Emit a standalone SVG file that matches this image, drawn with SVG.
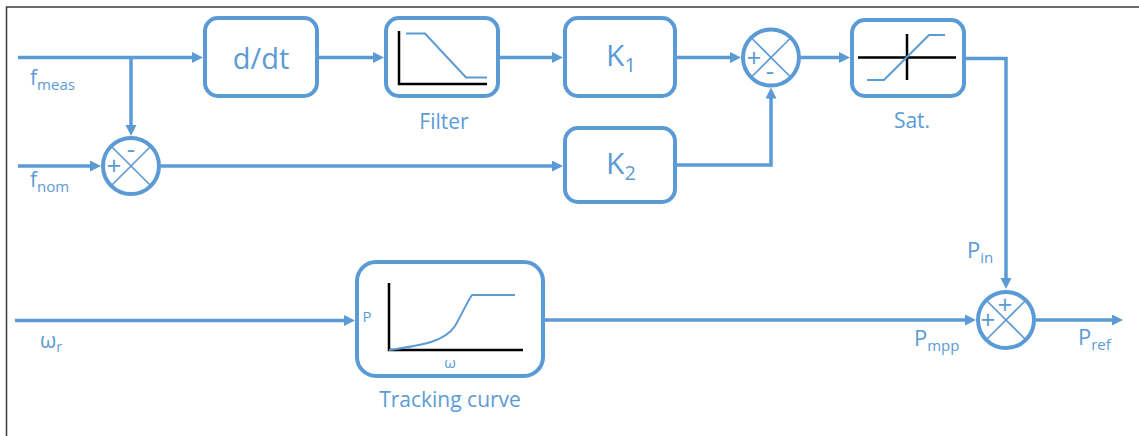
<svg xmlns="http://www.w3.org/2000/svg" width="1139" height="436" viewBox="0 0 1139 436">
<style>
  .box { fill: #ffffff; stroke: #5B9BD5; stroke-width: 4; }
  .sum { fill: #ffffff; stroke: #5B9BD5; stroke-width: 4; }
  .x { stroke: #5B9BD5; stroke-width: 1.6; fill: none; }
  .wire { fill: none; stroke: #5B9BD5; stroke-width: 3.5; }
  .axis { fill: none; stroke: #000000; stroke-width: 2.5; }
  .curve { fill: none; stroke: #5B9BD5; stroke-width: 2; }
  text { font-family: "Open Sans", "Liberation Sans", sans-serif; fill: #5B9BD5; }
  .big { font-size: 29px; }
  .lbl { font-size: 21px; }
  .sig { font-size: 21px; }
  .pw { font-size: 22px; }
  .sub { font-size: 15px; }
  .sign { font-size: 26px; }
  .small { font-size: 15px; }
</style>
<defs>
  <marker id="arr" markerUnits="userSpaceOnUse" markerWidth="12" markerHeight="12" refX="3" refY="5.5" orient="auto">
    <path d="M0,0 L11,5.5 L0,11 z" fill="#5B9BD5"/>
  </marker>
</defs>

<!-- frame -->
<g id="frame" stroke="#3a3a3a" stroke-width="1.5" fill="none">
  <line x1="6" y1="7" x2="1139" y2="7"/>
  <line x1="6.5" y1="7" x2="6.5" y2="436"/>
</g>

<!-- connectors -->
<g id="connectors">
  <path class="wire" d="M18,57.5 H195" marker-end="url(#arr)"/>
  <path class="wire" d="M131,57.5 V128" marker-end="url(#arr)"/>
  <path class="wire" d="M18,166 H93" marker-end="url(#arr)"/>
  <path class="wire" d="M161,166 H555" marker-end="url(#arr)"/>
  <path class="wire" d="M319,57.5 H376" marker-end="url(#arr)"/>
  <path class="wire" d="M500,57.5 H555" marker-end="url(#arr)"/>
  <path class="wire" d="M677,57.5 H733" marker-end="url(#arr)"/>
  <path class="wire" d="M677,165 H771 V95.5" marker-end="url(#arr)"/>
  <path class="wire" d="M801,57.5 H842" marker-end="url(#arr)"/>
  <path class="wire" d="M966,58.5 H1006 V281" marker-end="url(#arr)"/>
  <path class="wire" d="M15,320.5 H347" marker-end="url(#arr)"/>
  <path class="wire" d="M545,320 H968" marker-end="url(#arr)"/>
  <path class="wire" d="M1036,320 H1115" marker-end="url(#arr)"/>
</g>

<!-- sum 1 -->
<g id="sum1">
  <circle class="sum" cx="131" cy="166" r="28"/>
  <path class="x" d="M111.2,146.2 L150.8,185.8 M150.8,146.2 L111.2,185.8"/>
  <text class="sign" x="114" y="175" text-anchor="middle">+</text>
  <text class="sign" x="131" y="158" text-anchor="middle">-</text>
</g>

<!-- d/dt -->
<g id="ddt">
  <rect class="box" x="205" y="18" width="112" height="78" rx="13"/>
  <text class="big" x="261" y="69" text-anchor="middle">d/dt</text>
</g>

<!-- filter -->
<g id="filter">
  <rect class="box" x="386" y="18" width="112" height="78" rx="13"/>
  <polyline class="axis" points="399,31 399,84 487,84"/>
  <polyline class="curve" points="406,33.5 425,33.5 466,77.5 487,77.5"/>
  <text class="lbl" x="444" y="129" text-anchor="middle">Filter</text>
</g>

<!-- K1 -->
<g id="k1">
  <rect class="box" x="565" y="18" width="110" height="78" rx="13"/>
  <text x="621" y="66" text-anchor="middle"><tspan font-size="30">K</tspan><tspan font-size="20" dy="6">1</tspan></text>
</g>

<!-- K2 -->
<g id="k2">
  <rect class="box" x="565" y="128" width="110" height="74" rx="13"/>
  <text x="621" y="174" text-anchor="middle"><tspan font-size="30">K</tspan><tspan font-size="20" dy="6">2</tspan></text>
</g>

<!-- sum 2 -->
<g id="sum2">
  <circle class="sum" cx="771" cy="57.5" r="28"/>
  <path class="x" d="M751.2,37.7 L790.8,77.3 M790.8,37.7 L751.2,77.3"/>
  <text class="sign" x="754" y="66.5" text-anchor="middle">+</text>
  <text class="sign" x="770" y="80" text-anchor="middle">-</text>
</g>

<!-- saturation -->
<g id="sat">
  <rect class="box" x="852" y="20" width="112" height="76" rx="13"/>
  <path class="axis" d="M858,57.5 H956 M907,34 V80"/>
  <polyline class="curve" points="867,80 884,80 929,35 945,35"/>
  <text class="lbl" x="912" y="128" text-anchor="middle">Sat.</text>
</g>

<!-- tracking curve -->
<g id="tracking">
  <rect class="box" x="357" y="262" width="186" height="114" rx="19"/>
  <polyline class="axis" points="389,283 389,350 523,350"/>
  <path class="curve" d="M389,350 C425,345 445,341 455,326 C462,314 467,302 472,295 L515,295"/>
  <text class="small" x="367" y="322" text-anchor="middle">P</text>
  <text class="small" x="450" y="368" text-anchor="middle">ω</text>
  <text class="lbl" x="450" y="407" text-anchor="middle">Tracking curve</text>
</g>

<!-- sum 3 -->
<g id="sum3">
  <circle class="sum" cx="1006" cy="320" r="28"/>
  <path class="x" d="M986.2,300.2 L1025.8,339.8 M1025.8,300.2 L986.2,339.8"/>
  <text class="sign" x="1005" y="314" text-anchor="middle">+</text>
  <text class="sign" x="988" y="329" text-anchor="middle">+</text>
</g>

<!-- signal labels -->
<g id="labels">
  <text class="sig" x="30" y="85">f<tspan class="sub" dy="5">meas</tspan></text>
  <text class="sig" x="30" y="187">f<tspan class="sub" dy="5">nom</tspan></text>
  <text class="sig" x="40" y="348">ω<tspan font-size="14" dy="4">r</tspan></text>
  <text class="pw" x="967" y="258">P<tspan class="sub" dy="5">in</tspan></text>
  <text class="pw" x="914" y="346">P<tspan class="sub" dy="5">mpp</tspan></text>
  <text class="pw" x="1078" y="345">P<tspan class="sub" dy="5">ref</tspan></text>
</g>
</svg>
